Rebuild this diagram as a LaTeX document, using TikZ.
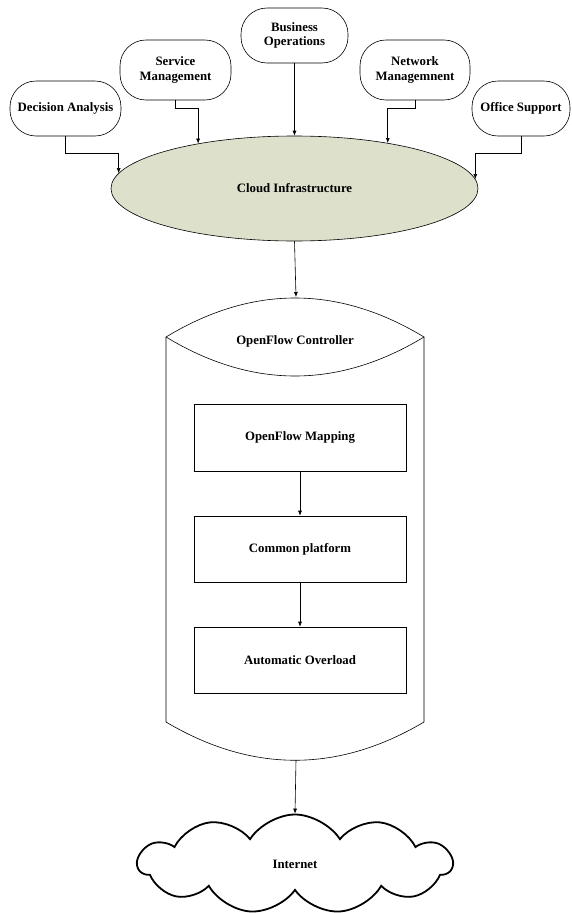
\documentclass[tikz,border=0pt]{standalone}
\usepackage{fontspec}
\setmainfont{Liberation Serif}
\usetikzlibrary{arrows.meta,shapes.geometric,shapes.symbols}
\definecolor{cloudfill}{RGB}{221,224,203}
\tikzset{
  lbl/.style={font=\fontsize{12.8}{14.5}\selectfont\bfseries, align=center},
  rbox/.style={lbl, draw, line width=0.6pt, rounded corners=26pt, inner sep=0pt},
  sbox/.style={lbl, draw, line width=0.6pt, inner sep=0pt, minimum width=212pt, minimum height=66pt},
  arr/.style={line width=0.6pt, -{Latex[length=5pt,width=4pt]}},
  ln/.style={line width=0.6pt}
}
\begin{document}
\begin{tikzpicture}[x=1pt,y=-1pt]
\useasboundingbox (0,0) rectangle (571,913);
% top boxes
\node[rbox, minimum width=111pt, minimum height=55pt] (da) at (65.5,108.5) {Decision Analysis};
\node[rbox, minimum width=111pt, minimum height=60pt] (sm) at (175.5,70) {Service\\Management};
\node[rbox, minimum width=107pt, minimum height=55pt] (bo) at (294.5,35.5) {Business\\Operations};
\node[rbox, minimum width=110pt, minimum height=60pt] (nm) at (415,70) {Network\\Managemnent};
\node[rbox, minimum width=98pt, minimum height=55pt] (os) at (521,108.5) {Office Support};
% ellipse
\node[lbl, ellipse, draw, line width=0.6pt, fill=cloudfill, inner sep=0pt,
      minimum width=367pt, minimum height=105pt] (ci) at (294.5,188.5) {Cloud Infrastructure};
% connectors to ellipse
\draw[arr] (da.south) -- ++(0,17) -| (ci.175.7);
\draw[arr] (sm.south) -- ++(0,8) -| (ci.155.5);
\draw[arr] (bo.south) -- (ci.north);
\draw[arr] (nm.south) -- ++(0,8) -| (ci.26.1);
\draw[arr] (os.south) -- ++(0,17) -| (ci.3.9);
% cylinder
\coordinate (cyltop) at (296,297);
\coordinate (cylbot) at (296,760);
\draw[ln] (166,337) .. controls (252,285) and (338,285) .. (424,337)
          .. controls (338,389) and (252,389) .. (166,337) -- cycle;
\draw[ln] (166,337) -- (166,722) .. controls (252,773) and (338,773) .. (424,722) -- (424,337);
\node[lbl] (ofc) at (295,341) {OpenFlow Controller};
\draw[arr] (ci.south) -- (cyltop);
% inner boxes
\node[sbox, minimum height=67pt] (m1) at (300,437.5) {OpenFlow Mapping};
\node[sbox] (m2) at (300,549) {Common platform};
\node[sbox] (m3) at (300,660) {Automatic Overload};
\draw[arr] (m1) -- (m2);
\draw[arr] (m2) -- (m3);
% cloud
\node[lbl, cloud, draw, line width=1.8pt, cloud puffs=11, cloud puff arc=115, cloud ignores aspect,
      inner sep=0pt, minimum width=314pt, minimum height=99pt] (inet) at (295,864) {Internet};
\draw[arr] (cylbot) -- (inet.north);
\end{tikzpicture}
\end{document}
